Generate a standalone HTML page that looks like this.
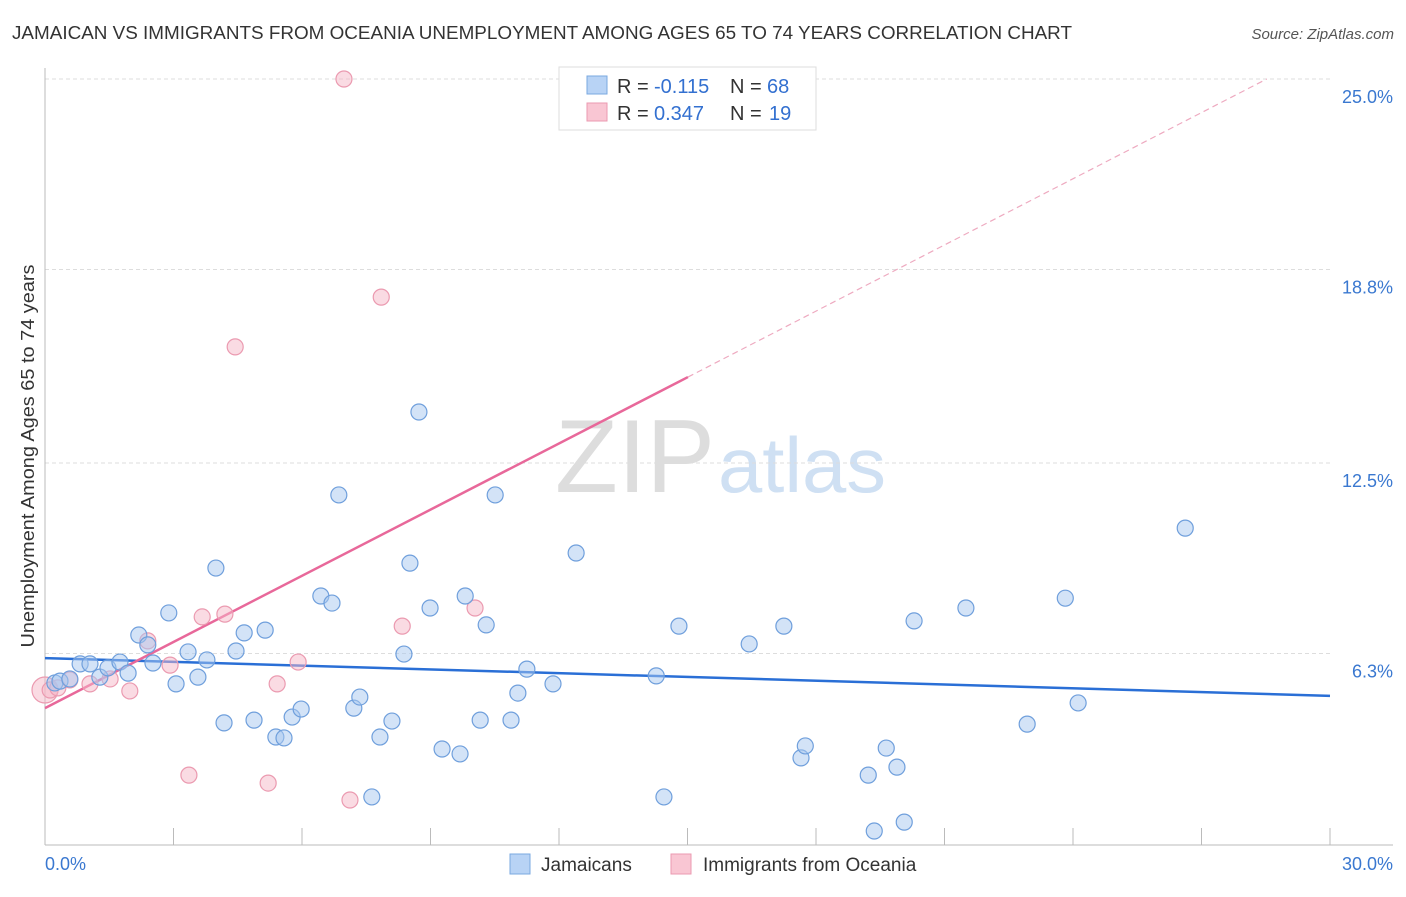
<!DOCTYPE html>
<html><head><meta charset="utf-8"><style>
body{margin:0;background:#fff;font-family:"Liberation Sans",sans-serif;}
svg text{font-family:"Liberation Sans",sans-serif;}
</style></head><body>
<svg id="c" width="1406" height="892">
<text x="12" y="39" font-size="18" fill="#333" textLength="1060" lengthAdjust="spacingAndGlyphs">JAMAICAN VS IMMIGRANTS FROM OCEANIA UNEMPLOYMENT AMONG AGES 65 TO 74 YEARS CORRELATION CHART</text>
<text x="1394" y="39" font-size="15" fill="#555" font-style="italic" text-anchor="end">Source: ZipAtlas.com</text>
<text x="34" y="456" font-size="18" fill="#333" text-anchor="middle" textLength="383" lengthAdjust="spacingAndGlyphs" transform="rotate(-90 34 456)">Unemployment Among Ages 65 to 74 years</text>
<g><text x="555" y="492" font-size="104" fill="#ddd" font-family="Liberation Serif" textLength="160" lengthAdjust="spacingAndGlyphs">ZIP</text><text x="718" y="492" font-size="78" fill="#cfe0f3" textLength="168" lengthAdjust="spacingAndGlyphs">atlas</text></g>
<g id="grid"></g><g id="axes"></g><g id="lines"></g><g id="pts"></g>
<g>
<rect x="559" y="67" width="257" height="63" fill="#fff" stroke="#ddd"/>
<rect x="587" y="76" width="20" height="18" fill="#b8d3f5" stroke="#7aa8e0"/>
<text x="617" y="93" font-size="20" fill="#333">R =</text>
<text x="654" y="93" font-size="20" fill="#3370d0">-0.115</text>
<text x="730" y="93" font-size="20" fill="#333">N =</text>
<text x="767" y="93" font-size="20" fill="#3370d0">68</text>
<rect x="587" y="103" width="20" height="18" fill="#f9c6d3" stroke="#eb9ab0"/>
<text x="617" y="120" font-size="20" fill="#333">R =</text>
<text x="654" y="120" font-size="20" fill="#3370d0">0.347</text>
<text x="730" y="120" font-size="20" fill="#333">N =</text>
<text x="769" y="120" font-size="20" fill="#3370d0">19</text>
</g>
<g>
<rect x="510" y="854" width="20" height="20" fill="#b8d3f5" stroke="#7aa8e0"/>
<text x="541" y="871" font-size="19" fill="#333">Jamaicans</text>
<rect x="671" y="854" width="20" height="20" fill="#f9c6d3" stroke="#eb9ab0"/>
<text x="703" y="871" font-size="19" fill="#333">Immigrants from Oceania</text>
</g>
</svg>
<script>
const yTicks=[6.3,12.5,18.8,25.0];
const yTickLabels=["6.3%","12.5%","18.8%","25.0%"];
const xTicks=[0,3,6,9,12,15,18,21,24,27,30];
const blueX=[0.23,0.35,0.58,0.82,1.05,1.28,1.47,1.75,1.94,2.19,2.40,2.52,2.89,3.06,3.34,3.57,3.78,3.99,4.18,4.46,4.65,4.88,5.14,5.39,5.58,5.77,5.98,6.44,6.70,6.86,7.21,7.35,7.63,7.82,8.10,8.38,8.52,8.73,8.99,9.27,9.69,9.81,10.16,10.30,10.51,10.88,11.04,11.25,11.86,12.40,14.27,14.45,14.80,16.44,17.25,17.65,17.75,19.22,19.36,19.64,19.89,20.06,20.29,21.50,22.93,23.82,24.12,26.62];
const blueY=[5.34,5.40,5.47,5.96,5.96,5.53,5.83,6.02,5.66,6.90,6.58,5.99,7.62,5.31,6.35,5.53,6.09,9.08,4.04,6.38,6.97,4.13,7.06,3.58,3.55,4.23,4.49,8.17,7.94,11.46,4.52,4.88,1.63,3.58,4.10,6.28,9.24,14.16,7.78,3.19,3.03,8.17,4.13,7.23,11.46,4.13,5.01,5.79,5.31,9.57,5.57,1.63,7.19,6.61,7.19,2.90,3.29,2.34,0.52,3.22,2.60,0.81,7.36,7.78,4.00,8.10,4.69,10.38];
const pinkX=[0.12,0.30,0.58,1.05,1.52,1.98,2.40,2.92,3.36,3.67,4.20,4.44,5.21,5.42,5.91,6.98,7.12,7.85,8.34,10.04];
const pinkY=[5.11,5.18,5.44,5.31,5.47,5.08,6.71,5.92,2.34,7.49,7.58,16.28,2.08,5.31,6.02,25.0,1.53,17.9,7.19,7.78];
const blueTrend=[6.15,4.92]; // at x=0 and x=30
const pinkTrend=[4.52,0.718]; // intercept, slope
const X=v=>45+v/30*1285, Y=v=>847-v*30.72;
const NS="http://www.w3.org/2000/svg";
function mk(p,t,a){const e=document.createElementNS(NS,t);for(const k in a)e.setAttribute(k,a[k]);p.appendChild(e);return e;}
const g=document.getElementById('grid'),ax=document.getElementById('axes'),ln=document.getElementById('lines'),pt=document.getElementById('pts');
yTicks.forEach((v,i)=>{
 const l=mk(g,'line',{x1:45,x2:1330,y1:Y(v),y2:Y(v),stroke:'#ddd','stroke-dasharray':'4,3'});
 
 
 const t=mk(g,'text',{x:1393,y:Y(v)+24,'font-size':18,fill:'#3a78d0','text-anchor':'end'});t.textContent=yTickLabels[i];
 
 
});
const a1=mk(ax,'line',{x1:45,x2:45,y1:68,y2:845,stroke:'#bbb'});


const a2=mk(ax,'line',{x1:45,x2:1393,y1:845,y2:845,stroke:'#bbb'});


xTicks.forEach(v=>{const l=mk(ax,'line',{x1:X(v),x2:X(v),y1:828,y2:845,stroke:'#bbb'});
 
 });
[[0,"0.0%",'start',45],[30,"30.0%",'end',1393]].forEach(d=>{const t=mk(ax,'text',{x:d[3],y:870,'font-size':18,fill:'#3a78d0','text-anchor':d[2]});t.textContent=d[1];
 
 });
function dot(x,y,r,f,s,n){const c=mk(pt,'circle',{cx:X(x),cy:Y(y),r:r,fill:f,'fill-opacity':0.5,stroke:s,'stroke-width':1.2});
 
 }
dot(0,5.11,13,'#f5b8c8','#eb9ab0','pink-point-large');
pinkX.forEach((x,i)=>dot(x,pinkY[i],8,'#f5b8c8','#eb9ab0','pink-point'));
blueX.forEach((x,i)=>dot(x,blueY[i],8,'#a8c8f0','#6f9fdc','blue-point'));
const bl=mk(ln,'line',{x1:X(0),y1:Y(blueTrend[0]),x2:X(30),y2:Y(blueTrend[1]),stroke:'#2a6fd6','stroke-width':2.5});


const xe=15.01,xd=(25.0-pinkTrend[0])/pinkTrend[1];
const pl=mk(ln,'line',{x1:X(0),y1:Y(pinkTrend[0]),x2:X(xe),y2:Y(pinkTrend[0]+pinkTrend[1]*xe),stroke:'#e8689a','stroke-width':2.5});


const pd=mk(ln,'line',{x1:X(xe),y1:Y(pinkTrend[0]+pinkTrend[1]*xe),x2:X(xd),y2:Y(25.0),stroke:'#eeaac0','stroke-width':1.2,'stroke-dasharray':'6,4'});


</script>
</body></html>
